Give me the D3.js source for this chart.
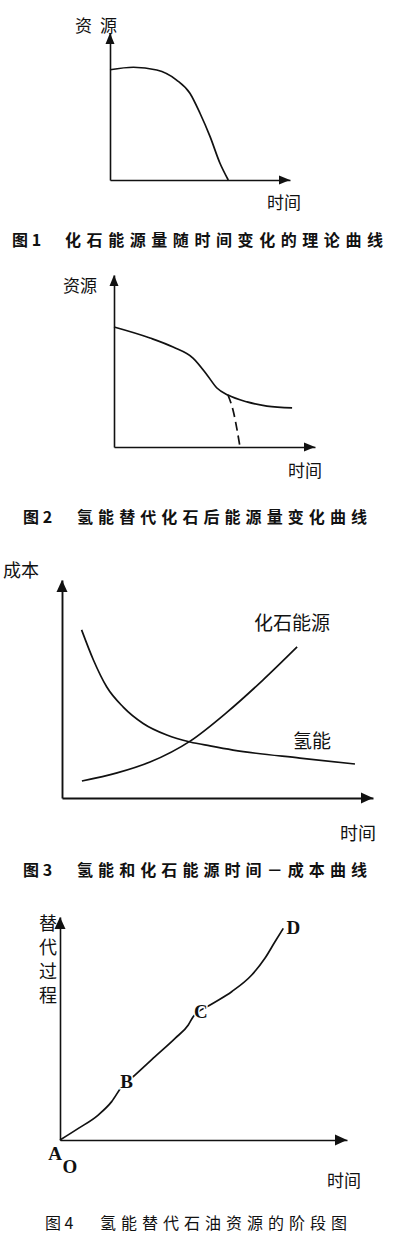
<!DOCTYPE html>
<html>
<head>
<meta charset="utf-8">
<script src="https://cdn.jsdelivr.net/npm/d3@7"></script>
<style>
  body { margin: 0; background: #fff; }
</style>
</head>
<body>
<svg id="chart" width="400" height="1238"></svg>
<script>
// fig 1 - theoretical fossil resource curve
const fig1Time = [0, 13, 26, 37, 44.4, 50, 55.6, 61.1, 65.7]
const fig1Resource = [75, 76.7, 74.8, 68, 59, 45.4, 29.5, 11.4, 0]

// fig 2 - resource after hydrogen replaces fossil
const fig2Time = [0, 17.9, 29.4, 39.3, 46.3, 51.2, 56.7, 66.2, 76.1, 88.6]
const fig2Resource = [69.8, 63.4, 58.1, 51.7, 41.9, 34.3, 30.2, 26.2, 23.8, 22.7]
const fig2FossilTime = [56.7, 59.2, 62.7]
const fig2Fossil = [30.2, 21.5, 0]

// fig 3 - cost over time
const fig3HydrogenTime = [6.3, 10.1, 14.4, 19.7, 26.1, 33.7, 41.2, 47.6, 55, 76.5, 94.2]
const fig3Hydrogen = [77.1, 63.3, 50.9, 41.7, 34.2, 28.9, 25.7, 23.9, 22, 18.3, 15.6]
const fig3FossilTime = [6.4, 17.7, 28.3, 41.2, 53.1, 64.6, 75.6]
const fig3Fossil = [7.8, 11.5, 16.5, 26.1, 39.4, 54.1, 69.3]

// fig 4 - replacement stages
const fig4Time = [0, 6.4, 13.3, 18, 21.5, 26.1, 33.1, 40.1, 44.7, 46.4, 52.3, 59.8, 66.8, 71.4, 74.9, 77.8]
const fig4Progress = [0, 5.2, 11.2, 17.2, 23.9, 29.1, 37.4, 45.6, 51.6, 55.3, 60.5, 66.5, 74, 81.5, 88.9, 94.9]
const stageNames = ['A', 'B', 'C', 'D']
const stageTime = [0, 23.2, 49.1, 81.3]
const stageProgress = [0, 26.1, 57.5, 95.1]

const captions = [
    ['图 1', '化石能源量随时间变化的理论曲线'],
    ['图 2', '氢能替代化石后能源量变化曲线'],
    ['图 3', '氢能和化石能源时间－成本曲线'],
    ['图 4', '氢能替代石油资源的阶段图']
]

const CJK = '"Noto Sans CJK SC", "Noto Sans", sans-serif'
const SERIF = '"Liberation Serif", "DejaVu Serif", serif'

const svg = d3.select('#chart')
svg.append('rect').attr('width', 400).attr('height', 1238).attr('fill', '#fff')

function zip(xs, ys){ return xs.map((x, i) => [x, ys[i]]) }

function frame(o){
    const x = d3.scaleLinear().domain([0, 100]).range([o.x0, o.x1])
    const y = d3.scaleLinear().domain([0, 100]).range([o.y0, o.y1])
    const g = svg.append('g')

    g.append('g')
        .attr('transform', `translate(0,${o.y0})`)
        .call(d3.axisBottom(x).tickValues([]).tickSizeOuter(0))
        .call(a => a.select('.domain').attr('stroke', '#111').attr('stroke-width', o.sw))
    g.append('g')
        .attr('transform', `translate(${o.x0},0)`)
        .call(d3.axisLeft(y).tickValues([]).tickSizeOuter(0))
        .call(a => a.select('.domain').attr('stroke', '#111').attr('stroke-width', o.sw))

    // arrow heads at the ends of both axes
    const L = o.ah, w = o.aw
    const xe = x.range()[1], ye = y.range()[1]
    g.append('path')
        .attr('d', `M${xe},${o.y0}L${xe - L},${o.y0 - w}L${xe - L},${o.y0 + w}Z`)
        .attr('fill', '#111')
    g.append('path')
        .attr('d', `M${o.x0},${ye}L${o.x0 - w},${ye + L}L${o.x0 + w},${ye + L}Z`)
        .attr('fill', '#111')
    return {x, y, g}
}

function curve(f, pts, dash){
    f.g.append('path')
        .datum(pts)
        .attr('d', d3.line().x(d => f.x(d[0])).y(d => f.y(d[1])).curve(d3.curveMonotoneX))
        .attr('fill', 'none')
        .attr('stroke', '#111')
        .attr('stroke-width', 1.7)
        .attr('stroke-dasharray', dash || null)
}

function label(t, x, y, size, extra){
    const el = svg.append('text')
        .text(t)
        .attr('x', x)
        .attr('y', y)
        .attr('font-size', size)
        .attr('dominant-baseline', 'central')
        .style('font-family', CJK)
        .style('fill', '#111')
    if (extra) extra(el)
    return el
}

function caption(i, x0, x1, xEnd, y, weight){
    label(captions[i][0], x0, y, 16, e => e.attr('font-weight', weight))
    label(captions[i][1], x1, y, 16, e => e
        .attr('font-weight', weight)
        .attr('textLength', xEnd - x1)
        .attr('lengthAdjust', 'spacing'))
}

// figure 1
const f1 = frame({x0: 110, x1: 290, y0: 180, y1: 33, ah: 11, aw: 4.5, sw: 1.6})
curve(f1, zip(fig1Time, fig1Resource))
label('资', 75, 24, 17)
label('源', 100, 24, 17)
label('时间', 267, 201, 17)
caption(0, 12, 65, 383, 239, 'bold')

// figure 2
const f2 = frame({x0: 114, x1: 315, y0: 447, y1: 275, ah: 11, aw: 4.5, sw: 1.6})
curve(f2, zip(fig2Time, fig2Resource))
curve(f2, zip(fig2FossilTime, fig2Fossil), '9,5')
label('资源', 63, 284, 17)
label('时间', 288, 469, 17)
caption(1, 23, 77, 367, 516, 'bold')

// figure 3
const f3 = frame({x0: 62, x1: 373, y0: 798, y1: 580, ah: 12, aw: 5.5, sw: 1.9})
curve(f3, zip(fig3HydrogenTime, fig3Hydrogen))
curve(f3, zip(fig3FossilTime, fig3Fossil))
label('成本', 3, 569, 18)
label('化石能源', 254, 621, 19)
label('氢能', 293, 739, 19)
label('时间', 340, 832, 18)
caption(2, 23, 77, 367, 869, 'bold')

// figure 4
const f4 = frame({x0: 60, x1: 347, y0: 1140, y1: 917, ah: 12, aw: 5.5, sw: 1.6})
curve(f4, zip(fig4Time, fig4Progress))
'替代过程'.split('').forEach((c, i) => label(c, 39, 922 + i * 24, 18))
stageNames.forEach((s, i) => {
    const dx = i === 0 ? -5 : 0, dy = i === 0 ? 13 : 0
    label(s, f4.x(stageTime[i]) + dx, f4.y(stageProgress[i]) + dy, 19, e => e
        .attr('text-anchor', 'middle')
        .style('font-family', SERIF)
        .attr('font-weight', 'bold')
        .attr('stroke', '#fff')
        .attr('stroke-width', 3)
        .attr('paint-order', 'stroke'))
})
label('O', 70, 1166, 19, e => e
    .attr('text-anchor', 'middle')
    .style('font-family', SERIF)
    .attr('font-weight', 'bold'))
label('时间', 327, 1179, 17)
caption(3, 45, 100, 347, 1222, 'normal')
</script>
</body>
</html>
